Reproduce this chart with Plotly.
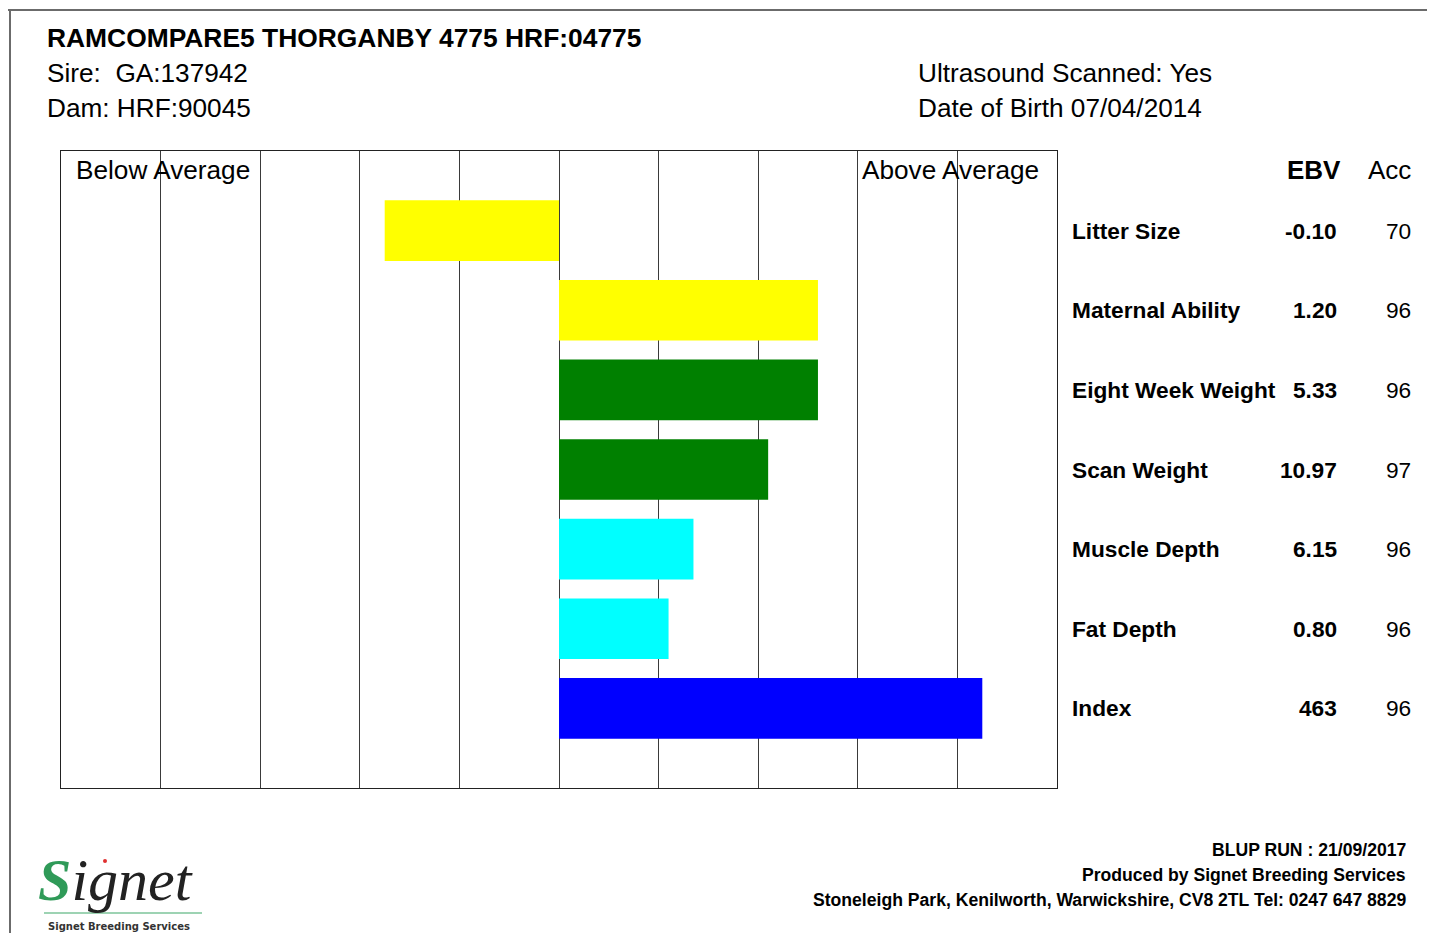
import plotly.graph_objects as go

# ---- data ----
traits = ["Litter Size", "Maternal Ability", "Eight Week Weight", "Scan Weight",
          "Muscle Depth", "Fat Depth", "Index"]
bar_values = [-1.75, 2.60, 2.60, 2.10, 1.35, 1.10, 4.25]
bar_colors = ["#FFFF00", "#FFFF00", "#008000", "#008000", "#00FFFF", "#00FFFF", "#0000FF"]
ebv_labels = ["-0.10", "1.20", "5.33", "10.97", "6.15", "0.80", "463"]
acc_labels = ["70", "96", "96", "97", "96", "96", "96"]

W, H = 1435, 933
OFF = 8                            # page body margin
L, R, T, B = 61, 1057, 151, 788    # plot area in page pixels


def px(x):
    return (x - L) / (R - L)


def py(y):
    return (B - y) / (B - T)


FONT = "Liberation Sans, Arial, Helvetica, sans-serif"

fig = go.Figure()
fig.add_trace(go.Bar(
    x=bar_values, y=traits, orientation="h", base=0,
    marker=dict(color=bar_colors, line=dict(width=0)),
    width=0.76, hoverinfo="x+y", showlegend=False,
))

ann = []


def text(x, y, s, size, anchor="left", bold=False, color="black", yref="paper", yanchor="middle"):
    # compensate for annotation box padding
    xx = x - 2 if anchor == "left" else x + 3
    ann.append(dict(
        x=px(xx), y=y, xref="paper", yref=yref, xanchor=anchor, yanchor=yanchor,
        text=("<b>%s</b>" % s) if bold else s, showarrow=False,
        font=dict(family=FONT, size=size, color=color),
    ))


# header
text(47, py(38), "RAMCOMPARE5 THORGANBY 4775 HRF:04775", 26.4, bold=True)
text(47, py(73), "Sire:  GA:137942", 26.2)
text(47, py(108), "Dam: HRF:90045", 26.2)
text(918, py(73), "Ultrasound Scanned: Yes", 26.2)
text(918, py(108), "Date of Birth 07/04/2014", 26.2)

# plot labels
text(76, py(170), "Below Average", 26.2)
text(862, py(170), "Above Average", 26.2)

# table
text(1340, py(170), "EBV", 26, anchor="right", bold=True)
text(1410, py(170), "Acc", 26, anchor="right")
for t, e, a in zip(traits, ebv_labels, acc_labels):
    text(1072, t, t, 22.7, bold=True, yref="y")
    text(1336, t, e, 22.7, anchor="right", bold=True, yref="y")
    text(1410, t, a, 22.7, anchor="right", yref="y")

# footer
text(1405, py(850), "BLUP RUN : 21/09/2017", 17.6, anchor="right", bold=True)
text(1405, py(875), "Produced by Signet Breeding Services", 17.6, anchor="right", bold=True)
text(1405, py(900), "Stoneleigh Park, Kenilworth, Warwickshire, CV8 2TL Tel: 0247 647 8829", 17.6,
     anchor="right", bold=True)

# logo
ann.append(dict(
    x=px(36), y=py(880), xref="paper", yref="paper", xanchor="left", yanchor="middle",
    text="<span style='color:#2f9a58'><b>S</b></span>ignet", showarrow=False,
    font=dict(family="Liberation Serif, DejaVu Serif, serif", size=60, color="#222222",
              style="italic"),
))
ann.append(dict(
    x=px(46), y=py(926), xref="paper", yref="paper", xanchor="left", yanchor="middle",
    text="<b>Signet Breeding Services</b>", showarrow=False,
    font=dict(family="DejaVu Sans, sans-serif", size=10, color="#333333"),
))

shapes = [
    # outer page frame
    dict(type="line", xref="paper", yref="paper", x0=px(8), x1=px(1435), y0=py(10), y1=py(10),
         line=dict(color="#6b6b6b", width=2)),
    dict(type="line", xref="paper", yref="paper", x0=px(10), x1=px(10), y0=py(10), y1=py(933),
         line=dict(color="#6b6b6b", width=2)),
    # logo underline and dot
    dict(type="line", xref="paper", yref="paper", x0=px(44), x1=px(202), y0=py(913), y1=py(913),
         line=dict(color="#7cc49a", width=1.5)),
    dict(type="circle", xref="paper", yref="paper", x0=px(103), x1=px(107), y0=py(859), y1=py(863),
         fillcolor="#e03030", line=dict(width=0)),
]

fig.update_layout(
    width=W - OFF, height=H - OFF,
    margin=dict(l=L - OFF, r=W - R, t=T - OFF, b=H - B, pad=0),
    paper_bgcolor="white", plot_bgcolor="white",
    annotations=ann, shapes=shapes,
    xaxis=dict(range=[-5, 5], dtick=1, tick0=0, showgrid=True, gridcolor="#3a3a3a", gridwidth=1,
               zeroline=False, showticklabels=False, ticks="", showline=True, mirror=True,
               linecolor="#222222", linewidth=1, fixedrange=True),
    yaxis=dict(range=[7, -1], showgrid=False, zeroline=False, showticklabels=False, ticks="",
               showline=True, mirror=True, linecolor="#222222", linewidth=1,
               fixedrange=True, type="category"),
    showlegend=False,
)

fig.write_html("out.html")
